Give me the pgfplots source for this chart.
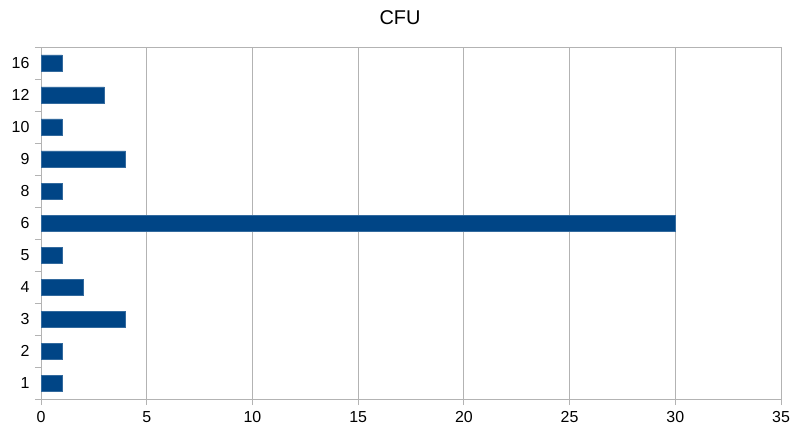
\documentclass[border=0pt]{standalone}
\usepackage{pgfplots}
\pgfplotsset{compat=1.18}
\usepackage{fontspec}
\setmainfont{Liberation Sans}
\definecolor{barblue}{HTML}{004586}
\definecolor{gridgray}{HTML}{B3B3B3}
\begin{document}
\begin{tikzpicture}[x=1bp,y=1bp]
\useasboundingbox (0,0) rectangle (792,428);
\node[font=\fontsize{20}{24}\selectfont, anchor=center] at (400,410) {CFU};
\begin{axis}[
  at={(41bp,29bp)}, anchor=south west,
  scale only axis, width=740bp, height=352bp,
  xbar, bar width=16bp,
  xmin=0, xmax=35, ymin=-0.5, ymax=10.5,
  xtick={0,5,...,35},
  ytick={-0.5,0.5,...,10.5},
  yticklabels={},
  extra y ticks={0,...,10},
  extra y tick labels={1,2,3,4,5,6,8,9,10,12,16},
  extra y tick style={major tick length=0pt, ymajorgrids=false, yticklabel style={xshift=-8bp}},
  xmajorgrids, grid style={gridgray, line width=0.8pt},
  axis line style={gridgray, line width=0.8pt},
  every tick/.style={gridgray, line width=0.8pt},
  tick align=outside,
  xtick pos=bottom, ytick pos=left,
  major tick length=6bp,
  tick label style={font=\fontsize{16}{19}\selectfont, text=black},
  /pgf/number format/assume math mode=true,
  xticklabel style={yshift=-3bp},
]
\addplot[fill=barblue, draw=barblue!80!white, line width=0.4pt] coordinates {
(1,0) (1,1) (4,2) (2,3) (1,4) (30,5) (1,6) (4,7) (1,8) (3,9) (1,10)
};
\end{axis}
\end{tikzpicture}
\end{document}
